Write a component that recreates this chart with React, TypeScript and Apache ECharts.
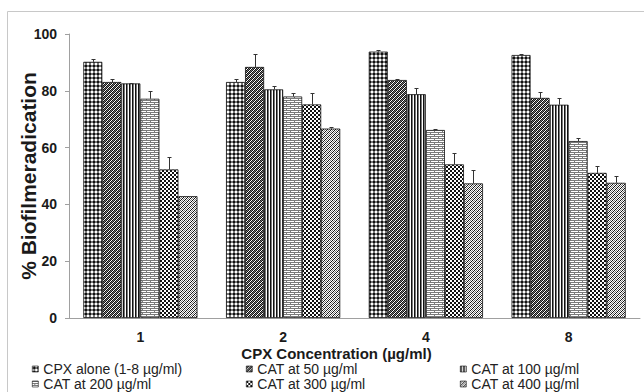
import React, { useEffect, useRef } from "react";
import * as echarts from "echarts";

const categories = ["1", "2", "4", "8"];
const seriesNames = [
  "CPX alone (1-8 µg/ml)",
  "CAT at 50 µg/ml",
  "CAT at 100 µg/ml",
  "CAT at 200 µg/ml",
  "CAT at 300 µg/ml",
  "CAT at 400 µg/ml",
];
const cpxAlone = [90.2, 83.1, 93.8, 92.6];
const cat50 = [83.1, 88.4, 83.8, 77.5];
const cat100 = [82.6, 80.5, 78.8, 75.1];
const cat200 = [77.2, 78.0, 66.2, 62.3];
const cat300 = [52.3, 75.2, 54.1, 51.1];
const cat400 = [42.9, 66.7, 47.4, 47.6];
const cpxAloneErr = [0.9, 1.2, 0.6, 0.2];
const cat50Err = [1.2, 4.5, 0.4, 2.1];
const cat100Err = [0.2, 1.2, 2.2, 2.3];
const cat200Err = [2.7, 1.4, 0.2, 1.1];
const cat300Err = [4.5, 4.1, 4.0, 2.3];
const cat400Err = [0, 0.6, 4.6, 2.3];
const yTicks = { min: 0, max: 100, interval: 20 };

const values = [cpxAlone, cat50, cat100, cat200, cat300, cat400];
const errors = [cpxAloneErr, cat50Err, cat100Err, cat200Err, cat300Err, cat400Err];

// pixel tiles for the hatch fills (style only)
const tileDefs: string[][] = [
  [".++.", "+##+", "+##+", ".++."],
  ["#+#.", "+#.#", "#.#+", ".#+#"],
  ["#+.", "#+.", "#+."],
  ["++++++++", "......+.", "++++++++", "..+....."],
  ["##..", "##..", "..##", "..##"],
  ["#.+.", ".+.#", "+.#.", ".#.+"],
];
const tileColors: Record<string, string> = {
  "#": "#111111",
  "+": "#7a7a7a",
  ".": "#ffffff",
};

function makeTile(rows: string[]) {
  const h = rows.length;
  const w = rows[0].length;
  const c = document.createElement("canvas");
  c.width = w;
  c.height = h;
  const ctx = c.getContext("2d")!;
  for (let y = 0; y < h; y++) {
    for (let x = 0; x < w; x++) {
      ctx.fillStyle = tileColors[rows[y][x]] || "#ffffff";
      ctx.fillRect(x, y, 1, 1);
    }
  }
  return { image: c, repeat: "repeat", imageWidth: w, imageHeight: h } as any;
}

const FONT = "'Liberation Sans', Arial, sans-serif";

export default function App() {
  const ref = useRef<HTMLDivElement>(null);
  useEffect(() => {
    document.body.style.margin = "0";
    if (!ref.current) return;
    const chart = echarts.init(ref.current, null, { renderer: "svg" });
    const patterns = tileDefs.map(makeTile);

    const barSeries = seriesNames.map((name, i) => ({
      name,
      type: "bar",
      data: values[i],
      barGap: "0%",
      barCategoryGap: "20%",
      itemStyle: { color: patterns[i], borderColor: "#111", borderWidth: 0.8 },
    }));

    const errData: number[][] = [];
    errors.forEach((arr, s) =>
      arr.forEach((e, ci) => errData.push([ci, values[s][ci], e, s]))
    );

    const legendCols = [32, 246, 460];
    const legendRows = [362, 377];
    const legends = seriesNames.map((name, i) => ({
      data: [name],
      left: legendCols[i % 3],
      top: legendRows[Math.floor(i / 3)],
      padding: 0,
      itemWidth: 6,
      itemHeight: 6,
      icon: "rect",
      selectedMode: false,
      itemStyle: { borderColor: "#111", borderWidth: 0.6 },
      textStyle: { fontFamily: FONT, fontSize: 14, lineHeight: 14, color: "#222" },
    }));

    chart.setOption({
      animation: false,
      backgroundColor: "#ffffff",
      textStyle: { fontFamily: FONT },
      grid: { left: 69, right: 4, top: 34, bottom: 74, outerBoundsMode: "none", containLabel: false },
      graphic: [
        {
          type: "rect",
          shape: { x: 7.5, y: 11.5, width: 800, height: 600 },
          style: { fill: "none", stroke: "#c8c8c8", lineWidth: 1 },
          silent: true,
        },
      ],
      legend: legends,
      xAxis: {
        type: "category",
        data: categories,
        axisLine: { lineStyle: { color: "#a0a0a0", width: 1 } },
        axisTick: { show: false },
        axisLabel: {
          fontFamily: FONT,
          fontSize: 14,
          fontWeight: "bold",
          color: "#1a1a1a",
          margin: 12,
          lineHeight: 14,
        },
        name: "CPX Concentration (µg/ml)",
        nameLocation: "middle",
        nameGap: 28,
        nameMoveOverlap: false,
        nameTextStyle: {
          fontFamily: FONT,
          fontSize: 15,
          lineHeight: 15,
          fontWeight: "bold",
          color: "#1a1a1a",
          padding: [0, 36, 0, 0],
        },
      },
      yAxis: {
        type: "value",
        min: yTicks.min,
        max: yTicks.max,
        interval: yTicks.interval,
        splitLine: { show: false },
        axisLine: { show: true, lineStyle: { color: "#a0a0a0", width: 1 } },
        axisTick: { show: true, length: 4, lineStyle: { color: "#a0a0a0" } },
        axisLabel: {
          fontFamily: FONT,
          fontSize: 14,
          fontWeight: "bold",
          color: "#1a1a1a",
          margin: 12,
        },
        name: "% Biofilmeradication",
        nameLocation: "middle",
        nameGap: 30,
        nameMoveOverlap: false,
        nameTextStyle: {
          fontFamily: FONT,
          fontSize: 21,
          fontWeight: "bold",
          color: "#1a1a1a",
        },
      },
      series: [
        ...barSeries,
        {
          type: "custom",
          data: errData,
          encode: { x: 0, y: 1 },
          z: 5,
          silent: true,
          renderItem: (params: any, api: any) => {
            const ci = api.value(0);
            const v = api.value(1);
            const e = api.value(2);
            const s = api.value(3);
            if (!e) return null;
            const base = api.coord([ci, v]);
            const top = api.coord([ci, v + e]);
            const band = api.size([1, 0])[0];
            const bw = (band * 0.8) / 6;
            const x = Math.round(base[0] + (s - 2.5) * bw) + 0.5;
            const ty = Math.round(top[1]) + 0.5;
            return {
              type: "group",
              children: [
                {
                  type: "line",
                  shape: { x1: x, y1: base[1], x2: x, y2: ty },
                  style: { stroke: "#333", lineWidth: 1 },
                },
                {
                  type: "line",
                  shape: { x1: x - 2, y1: ty, x2: x + 2, y2: ty },
                  style: { stroke: "#333", lineWidth: 1 },
                },
              ],
            };
          },
        },
      ],
    });
    return () => chart.dispose();
  }, []);
  return <div ref={ref} style={{ width: 644, height: 392 }} />;
}
